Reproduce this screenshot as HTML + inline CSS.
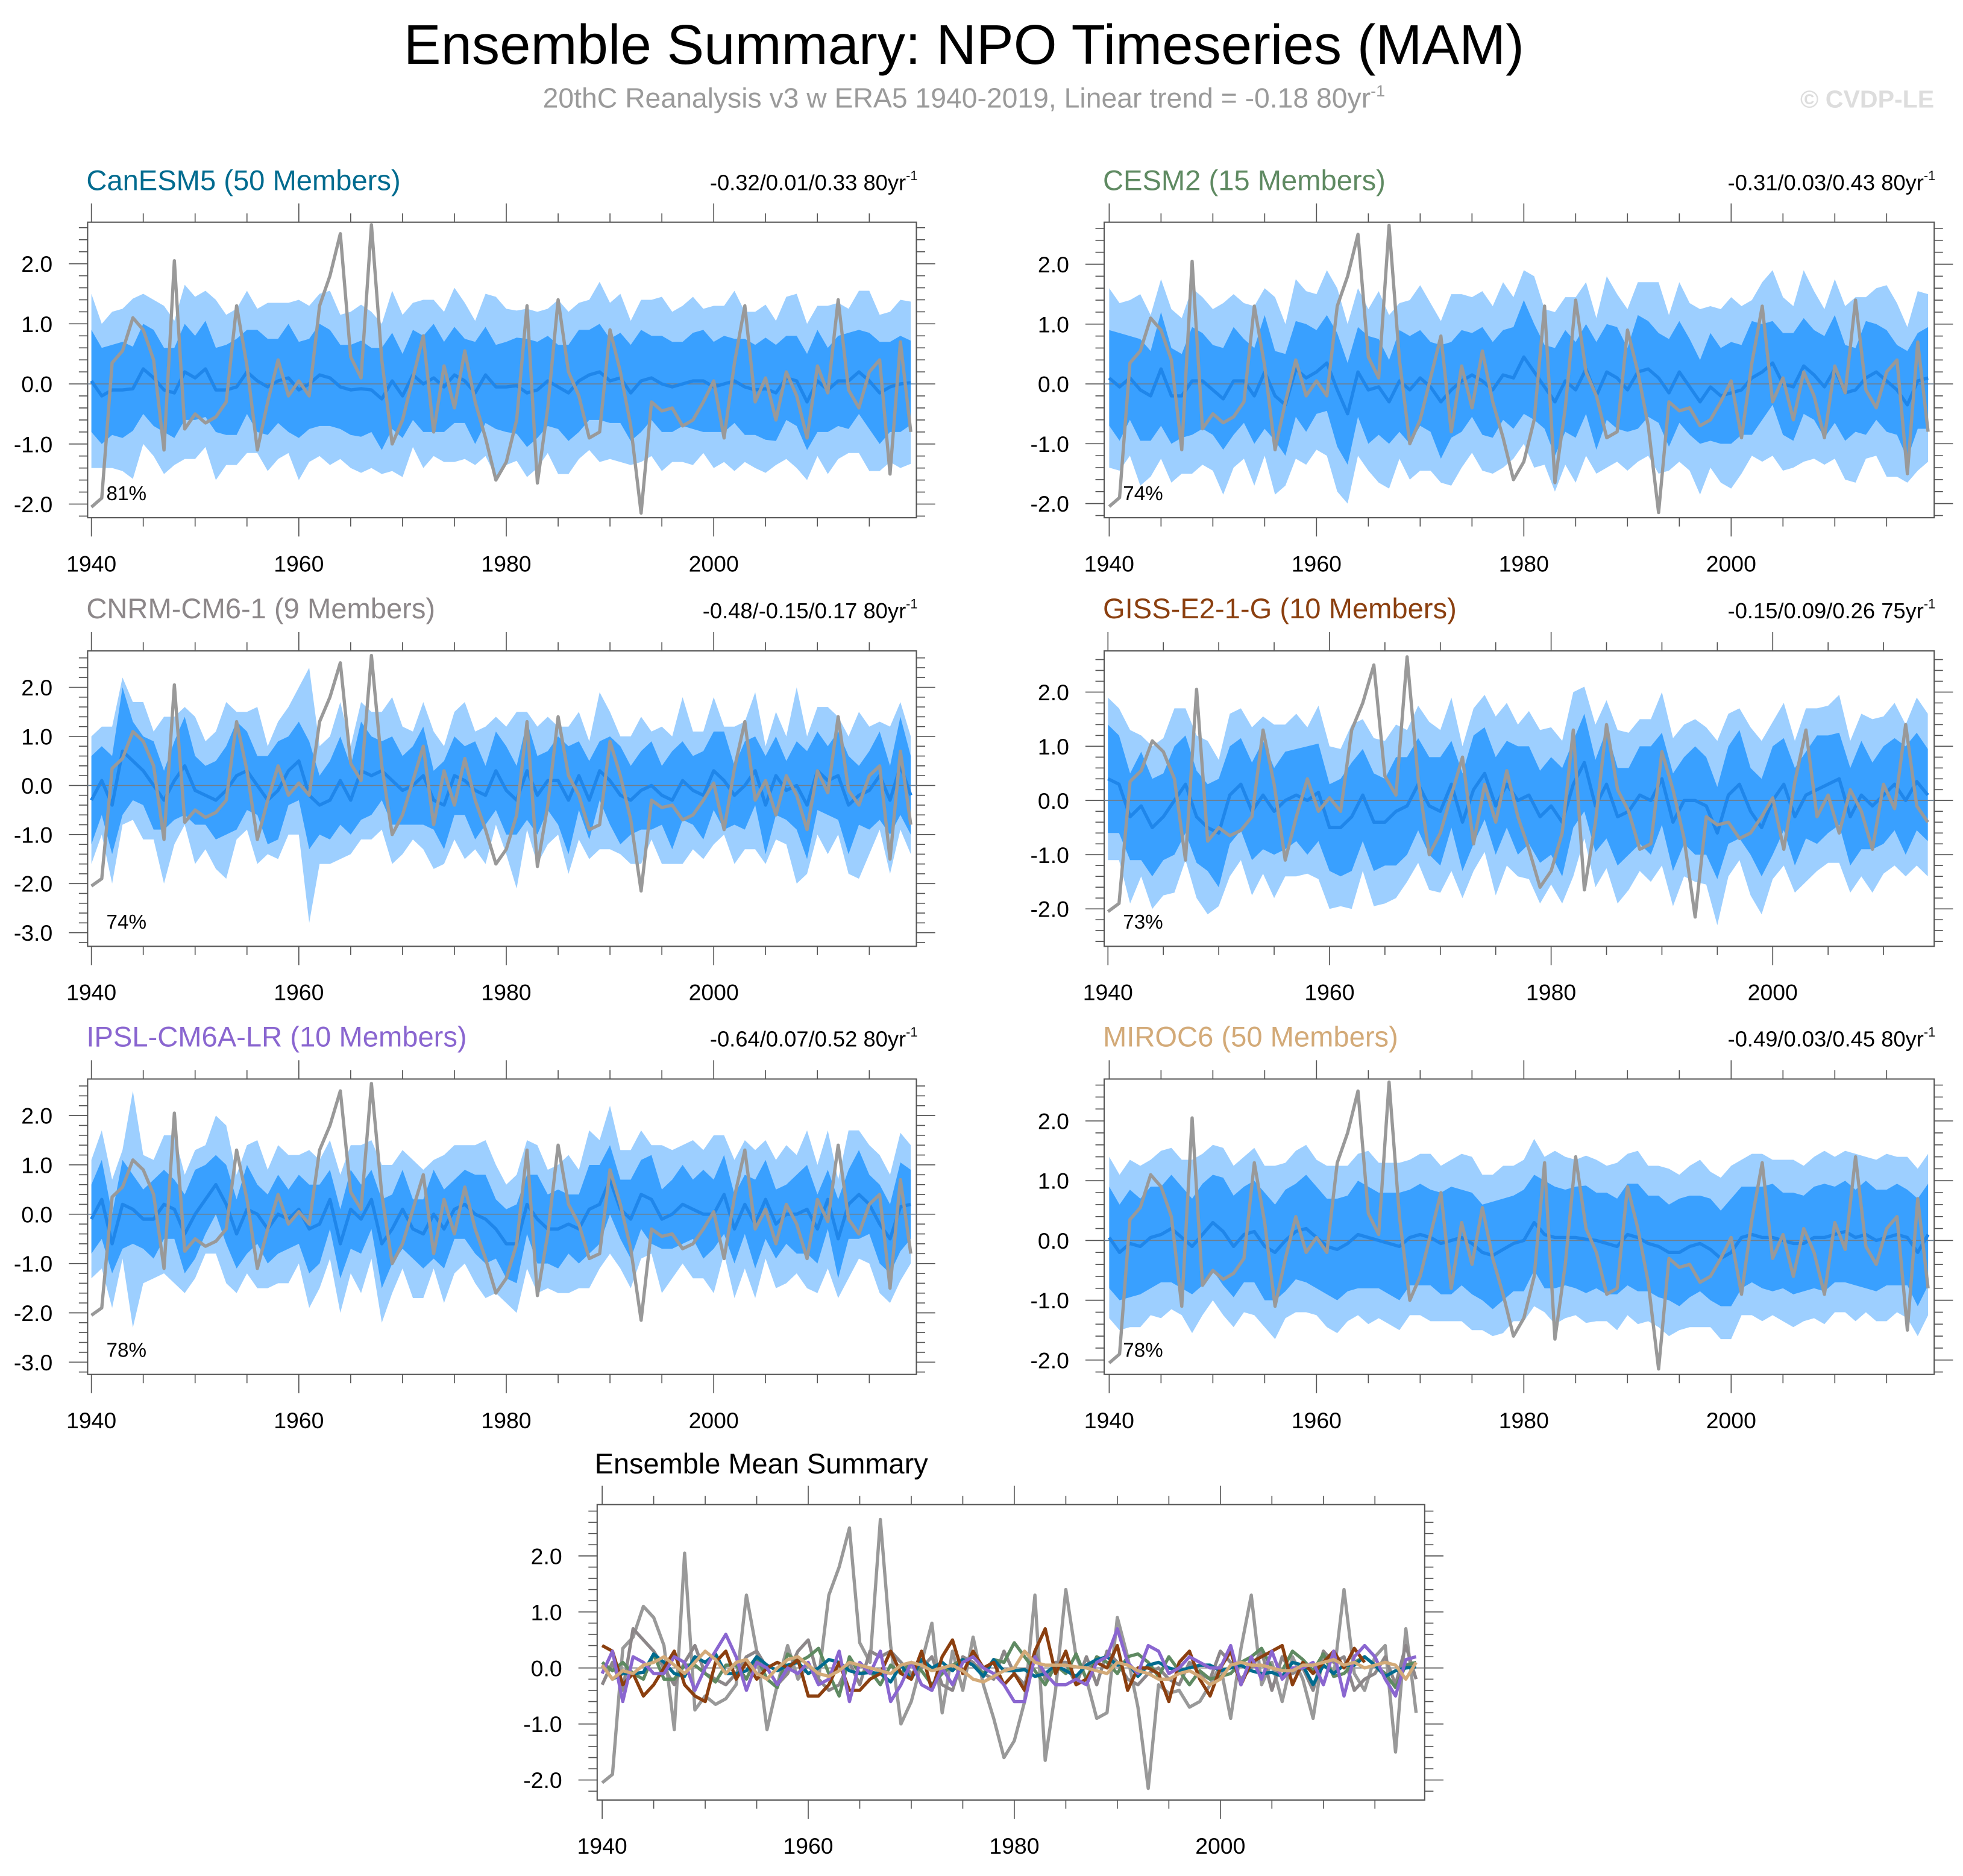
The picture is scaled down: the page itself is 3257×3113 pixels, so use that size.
<!DOCTYPE html>
<html><head><meta charset="utf-8"><title>Ensemble Summary: NPO Timeseries (MAM)</title>
<style>html,body{margin:0;padding:0;background:#fff}svg{display:block}</style></head>
<body>
<svg id="chart" xmlns="http://www.w3.org/2000/svg" width="3257" height="3113" viewBox="0 0 1568 1498.7" preserveAspectRatio="none" font-family="'Liberation Sans', Arial, sans-serif">
<text x="770" y="51" font-size="44.5" text-anchor="middle" fill="#000">Ensemble Summary: NPO Timeseries (MAM)</text>
<text x="770" y="86" font-size="22.3" text-anchor="middle" fill="#9a9a9a">20thC Reanalysis v3 w ERA5 1940-2019, Linear trend = -0.18 80yr<tspan font-size="13" dy="-9">-1</tspan></text>
<text x="1545" y="86" font-size="19.8" font-weight="bold" text-anchor="end" fill="#dddddd">© CVDP-LE</text>
<text x="475" y="1177" font-size="22.6" fill="#000">Ensemble Mean Summary</text>
</svg>
<script>
// ---- data ----
const obsStart = 1940;
const obs = [-2.05,-1.9,0.35,0.55,1.1,0.9,0.4,-1.1,2.05,-0.75,-0.5,-0.65,-0.55,-0.3,1.3,0.3,-1.1,-0.3,0.4,-0.2,0.05,-0.2,1.3,1.8,2.5,0.45,0.1,2.65,0.4,-1.0,-0.6,0.1,0.8,-0.8,0.3,-0.4,0.55,-0.3,-0.9,-1.6,-1.3,-0.6,1.3,-1.65,-0.4,1.4,0.2,-0.2,-0.9,-0.8,0.9,0.2,-0.7,-2.15,-0.3,-0.45,-0.4,-0.7,-0.6,-0.3,0.05,-0.9,0.35,1.3,-0.3,0.1,-0.6,0.2,-0.2,-0.9,0.3,-0.15,1.4,-0.1,-0.4,0.2,0.4,-1.5,0.7,-0.8];

const canMean = [0.05,-0.2,-0.1,-0.1,-0.08,0.25,0.1,-0.1,-0.15,0.2,0.1,0.25,-0.1,-0.1,-0.05,0.2,0.05,-0.05,0.05,0.1,-0.1,0,0.15,0.1,-0.05,-0.1,-0.08,-0.1,-0.25,0.05,-0.2,0.15,0,0.1,-0.05,0.15,0.05,-0.15,0.15,-0.05,-0.05,-0.03,-0.15,-0.1,0.05,-0.05,-0.15,0.05,0.15,0.2,0.05,0.1,-0.15,0.05,0.1,0,-0.05,0,0.05,0.05,-0.05,0,0.05,-0.05,-0.1,-0.08,-0.15,0.1,0.05,-0.3,0.05,-0.1,0.05,0.05,0.2,0.05,-0.15,-0.05,0,0.02];
const canIn = [0.85,0.8,0.75,0.8,0.7,0.75,0.8,0.7,0.75,0.8,0.7,0.8,0.7,0.75,0.8,0.7,0.85,0.8,0.7,0.9,0.8,0.75,0.85,0.8,0.7,0.75,0.8,0.7,0.85,0.8,0.7,0.75,0.8,0.9,0.75,0.8,0.7,0.85,0.8,0.7,0.75,0.8,0.9,0.8,0.75,0.7,0.8,0.85,0.75,0.8,0.7,0.75,0.8,0.85,0.7,0.8,0.75,0.7,0.8,0.85,0.75,0.8,0.7,0.8,0.75,0.85,0.8,0.7,0.75,0.8,0.85,0.7,0.75,0.8,0.7,0.8,0.85,0.75,0.8,0.7];
const canOut = [1.45,1.2,1.3,1.35,1.5,1.25,1.3,1.4,1.2,1.45,1.35,1.3,1.5,1.25,1.3,1.35,1.2,1.4,1.3,1.25,1.5,1.3,1.35,1.45,1.2,1.3,1.4,1.3,1.25,1.5,1.35,1.2,1.4,1.3,1.25,1.45,1.3,1.2,1.35,1.5,1.3,1.25,1.4,1.3,1.2,1.45,1.35,1.3,1.25,1.5,1.3,1.4,1.2,1.35,1.3,1.45,1.25,1.3,1.4,1.2,1.35,1.3,1.5,1.25,1.3,1.4,1.2,1.35,1.45,1.3,1.25,1.4,1.3,1.2,1.35,1.5,1.3,1.25,1.4,1.35];

const cesmMean = [0.1,-0.05,0.1,-0.1,-0.2,0.25,-0.2,-0.2,0.05,0.05,-0.1,-0.25,0.05,0.05,-0.2,0.2,-0.2,-0.35,0.25,0.1,0.2,0.35,-0.1,-0.5,0.2,-0.1,-0.05,-0.3,0.05,-0.1,0.1,-0.05,-0.3,-0.1,0.05,0.15,0.05,-0.1,0.15,0.1,0.45,0.2,-0.05,-0.3,0.05,-0.1,0.25,-0.2,0.2,0.1,-0.1,0.2,0.25,0.1,-0.15,0.2,-0.05,-0.3,-0.05,-0.2,-0.15,-0.1,0.1,0.2,0.35,0,-0.05,0.3,0.15,-0.05,0.25,-0.15,-0.1,0.1,0.2,0.05,-0.1,-0.35,0.05,0.1];
const cesmIn = [0.8,0.9,0.7,0.85,0.75,0.95,0.8,0.7,0.9,0.8,0.75,0.85,0.9,0.7,0.8,0.95,0.75,0.85,0.8,0.9,0.7,0.8,0.95,0.85,0.75,0.9,0.8,0.7,0.85,0.9,0.8,0.75,0.95,0.8,0.85,0.7,0.9,0.8,0.75,0.85,0.95,0.8,0.7,0.9,0.85,0.8,0.75,0.9,0.8,0.85,0.7,0.95,0.8,0.75,0.9,0.85,0.8,0.7,0.9,0.8,0.85,0.75,0.95,0.8,0.7,0.85,0.9,0.8,0.75,0.85,0.9,0.8,0.7,0.95,0.8,0.85,0.75,0.9,0.8,0.85];
const cesmOut = [1.5,1.4,1.3,1.6,1.35,1.5,1.45,1.3,1.55,1.4,1.35,1.6,1.45,1.3,1.5,1.4,1.65,1.35,1.5,1.45,1.3,1.55,1.7,1.5,1.4,1.35,1.6,1.45,1.3,1.5,1.55,1.4,1.35,1.6,1.45,1.3,1.5,1.4,1.55,1.35,1.45,1.6,1.3,1.5,1.4,1.55,1.45,1.3,1.6,1.4,1.35,1.5,1.45,1.6,1.3,1.5,1.4,1.55,1.35,1.45,1.6,1.4,1.3,1.5,1.55,1.45,1.35,1.6,1.4,1.3,1.5,1.45,1.55,1.35,1.4,1.6,1.45,1.3,1.5,1.4];

const cnrmMean = [-0.3,0.1,-0.4,0.7,0.5,0.3,0,-0.3,0.1,0.4,-0.1,-0.2,-0.3,-0.1,0.2,0.3,0,-0.3,-0.1,0.3,0.5,-0.2,-0.4,-0.3,0.1,-0.3,0.3,0.2,0.3,0.1,-0.1,0,0.2,-0.3,-0.4,0.2,0.1,-0.1,-0.2,0.3,-0.1,-0.3,0.3,-0.2,0.1,0.1,-0.3,0.2,-0.3,0.3,0.1,-0.2,-0.3,-0.1,0,-0.2,-0.3,0.1,-0.1,-0.2,0.3,0.1,-0.2,0,0.3,-0.4,0.2,-0.1,0,-0.4,0.3,0.1,0.2,-0.4,-0.2,-0.1,0.2,-0.3,0.4,-0.2];
const cnrmIn = [0.9,0.7,1.0,1.3,0.8,0.7,0.9,0.6,0.8,1.0,0.7,0.6,0.8,0.9,1.1,0.8,0.6,0.9,1.0,0.7,0.8,1.1,0.6,0.8,0.9,0.7,1.0,0.8,0.6,0.9,0.7,0.8,1.0,0.6,0.9,0.8,0.7,1.0,0.6,0.8,0.9,0.7,1.0,0.8,0.6,0.9,1.1,0.7,0.8,0.6,0.9,1.0,0.7,0.8,0.9,0.6,1.0,0.8,0.7,0.9,0.8,1.0,0.6,0.9,0.7,1.0,0.8,0.6,0.9,1.1,0.8,0.7,0.9,1.0,0.6,0.8,0.9,0.7,1.0,0.8];
const cnrmOut = [1.3,1.1,1.6,1.5,1.2,1.4,1.1,1.7,1.3,1.2,1.5,1.1,1.4,1.8,1.3,1.2,1.6,1.1,1.4,1.3,1.5,2.6,1.2,1.3,1.6,1.1,1.4,1.3,1.2,1.7,1.3,1.1,1.5,1.4,1.2,1.3,1.6,1.2,1.4,1.1,1.3,1.8,1.2,1.4,1.3,1.1,1.5,1.3,1.2,1.6,1.4,1.2,1.3,1.5,1.1,1.4,1.3,1.7,1.2,1.3,1.5,1.1,1.4,1.3,1.6,1.2,1.3,1.1,2.0,1.4,1.3,1.5,1.2,1.4,1.7,1.3,1.1,1.5,1.3,1.2];

const gissMean = [0.4,0.3,-0.3,-0.1,-0.5,-0.3,0,0.3,-0.3,-0.5,-0.6,0.1,0.3,-0.2,0.1,-0.2,0,0.1,0,0.15,-0.5,-0.5,-0.3,0.1,-0.4,-0.4,-0.2,-0.1,0.3,-0.1,-0.2,0.3,-0.4,0.2,0.5,-0.1,0.3,0,0.1,-0.3,-0.1,-0.4,0.3,0.7,-0.1,0.3,-0.3,-0.2,0.1,0,0.4,-0.4,0,0,-0.1,-0.6,0.1,0.3,-0.2,-0.5,0,0.3,-0.3,0.1,0.2,0.3,0.4,-0.3,0.1,-0.1,0.1,0.3,0,0.35,0.1];
const gissIn = [1.0,0.9,0.8,1.0,0.9,0.8,1.0,0.9,0.85,0.8,1.0,0.9,0.85,0.9,1.0,0.8,0.9,0.85,1.0,0.9,0.8,0.9,1.0,0.85,0.9,0.8,1.0,0.9,0.85,0.9,1.0,0.8,0.9,1.0,0.85,0.9,0.8,1.0,0.9,0.85,0.9,1.0,0.8,0.9,0.85,1.0,0.9,0.8,0.9,1.0,0.85,0.9,0.8,1.0,0.9,0.85,0.9,1.0,0.8,0.9,1.0,0.85,0.9,0.8,1.0,0.9,0.85,0.9,1.0,0.8,0.9,0.85,1.0,0.9,0.85];
const gissOut = [1.5,1.4,1.6,1.3,1.5,1.45,1.7,1.4,1.5,1.6,1.35,1.5,1.4,1.55,1.45,1.6,1.4,1.5,1.35,1.6,1.5,1.45,1.7,1.4,1.55,1.5,1.6,1.4,1.45,1.55,1.5,1.6,1.4,1.5,1.45,1.65,1.5,1.4,1.55,1.6,1.45,1.5,1.7,1.4,1.5,1.55,1.6,1.45,1.4,1.5,1.6,1.55,1.4,1.5,1.45,1.7,1.5,1.4,1.55,1.6,1.45,1.5,1.4,1.6,1.5,1.45,1.55,1.4,1.5,1.6,1.45,1.5,1.4,1.55,1.5];

const ipslMean = [-0.1,0.3,-0.6,0.2,0.1,-0.1,-0.1,0.2,0.1,-0.4,0,0.3,0.6,0.2,-0.4,0.1,0,-0.3,0,-0.1,0.1,-0.3,-0.2,0.3,-0.6,0.1,-0.1,0.3,-0.6,-0.3,0.1,-0.3,-0.4,0,-0.3,0.1,0.2,0,-0.1,-0.3,-0.6,-0.6,0.2,-0.1,-0.3,-0.3,-0.2,-0.3,0.1,0.2,0.7,0.1,-0.1,0.4,0.3,-0.1,0,0.2,0.1,0,0,0.4,-0.3,0.2,-0.2,0.3,-0.2,0,0,0.1,-0.3,0.3,-0.5,0.2,0.4,0.2,-0.2,-0.5,0.15,0.2];
const ipslIn = [0.7,0.8,0.6,0.9,0.7,0.6,0.8,0.7,0.6,0.8,0.9,0.7,0.6,0.8,0.7,0.9,0.6,0.7,0.8,0.6,0.7,0.9,0.8,0.6,0.7,0.8,0.7,0.6,0.9,0.7,0.8,0.6,0.7,0.9,0.8,0.6,0.7,0.8,0.9,0.6,0.7,0.8,0.6,0.9,0.7,0.8,0.6,0.7,0.9,0.8,0.7,0.6,0.8,0.7,0.9,0.6,0.7,0.8,0.6,0.9,0.7,0.8,0.7,0.6,0.9,0.8,0.7,0.6,0.8,0.9,0.7,0.6,0.8,0.7,0.9,0.6,0.8,0.7,0.9,0.7];
const ipslOut = [1.2,1.4,1.3,1.1,2.4,1.3,1.2,1.4,1.5,1.2,1.3,1.1,1.4,1.6,1.2,1.3,1.5,1.2,1.4,1.3,1.1,1.6,1.3,1.2,1.4,1.3,1.5,1.2,1.6,1.3,1.2,1.4,1.3,1.1,1.5,1.3,1.2,1.4,1.6,1.3,1.2,1.4,1.3,1.5,1.2,1.3,1.4,1.2,1.6,1.3,1.5,1.2,1.4,1.3,1.1,1.5,1.3,1.2,1.4,1.3,1.6,1.2,1.4,1.3,1.5,1.2,1.3,1.4,1.2,1.6,1.3,1.4,1.2,1.5,1.3,1.2,1.4,1.3,1.5,1.2];

const mirocMean = [0.05,-0.2,-0.05,-0.1,0.05,0.1,0.2,0.05,-0.1,0.1,0.3,0.15,-0.1,0.1,0.15,-0.1,-0.2,0,0.15,0.2,0.05,-0.1,-0.15,-0.05,0.1,0.05,0,-0.05,-0.1,0.05,0.1,0.05,-0.05,0,0.05,-0.05,-0.2,-0.25,-0.15,-0.05,0,0.3,0.1,0.05,0.05,0.05,0.02,0,-0.05,-0.1,0.1,0.05,-0.05,-0.1,-0.2,-0.2,-0.1,-0.05,-0.15,-0.3,-0.2,0.05,0.1,0.05,0.05,0,-0.05,-0.05,0.05,0.05,0.1,0.15,0.05,0.1,0,0.05,0.1,0.05,-0.2,0.1];
const mirocIn = [0.85,0.8,0.9,0.8,0.85,0.8,0.9,0.85,0.8,0.85,0.8,0.9,0.85,0.8,0.85,0.9,0.8,0.85,0.8,0.9,0.85,0.8,0.85,0.8,0.9,0.85,0.8,0.85,0.9,0.8,0.85,0.8,0.85,0.9,0.8,0.85,0.8,0.9,0.85,0.8,0.85,0.8,0.9,0.85,0.8,0.85,0.9,0.8,0.85,0.8,0.85,0.9,0.8,0.85,0.8,0.9,0.85,0.8,0.85,0.8,0.9,0.85,0.8,0.85,0.9,0.8,0.85,0.8,0.85,0.9,0.8,0.85,0.8,0.9,0.85,0.8,0.85,0.8,0.9,0.85];
const mirocOut = [1.35,1.3,1.4,1.35,1.3,1.4,1.35,1.3,1.45,1.35,1.3,1.4,1.35,1.3,1.4,1.35,1.45,1.3,1.35,1.4,1.3,1.35,1.4,1.3,1.35,1.45,1.3,1.35,1.4,1.3,1.35,1.4,1.3,1.35,1.4,1.45,1.3,1.35,1.4,1.3,1.35,1.4,1.3,1.45,1.35,1.3,1.4,1.35,1.3,1.4,1.35,1.45,1.3,1.35,1.4,1.3,1.35,1.4,1.3,1.35,1.45,1.3,1.35,1.4,1.3,1.35,1.4,1.3,1.35,1.45,1.3,1.35,1.4,1.3,1.35,1.4,1.3,1.35,1.4,1.35];

const modelNames = ["CanESM5 (50 Members)","CESM2 (15 Members)","CNRM-CM6-1 (9 Members)","GISS-E2-1-G (10 Members)","IPSL-CM6A-LR (10 Members)","MIROC6 (50 Members)"];
const trendLabels = ["-0.32/0.01/0.33 80yr","-0.31/0.03/0.43 80yr","-0.48/-0.15/0.17 80yr","-0.15/0.09/0.26 75yr","-0.64/0.07/0.52 80yr","-0.49/0.03/0.45 80yr"];
const pctLabels = ["81%","74%","74%","73%","78%","78%"];
const means = [canMean,cesmMean,cnrmMean,gissMean,ipslMean,mirocMean];
const innerW = [canIn,cesmIn,cnrmIn,gissIn,ipslIn,mirocIn];
const outerW = [canOut,cesmOut,cnrmOut,gissOut,ipslOut,mirocOut];
const yTicks = [[2,1,0,-1,-2],[2,1,0,-1,-2],[2,1,0,-1,-2,-3],[2,1,0,-1,-2],[2,1,0,-1,-2,-3],[2,1,0,-1,-2]];
const xTicks = [1940,1960,1980,2000];
const modelColors = ["#006b8f","#5f8a62","#8c8789","#8b3f0f","#8a66d0","#d3aa78"];

// ---- layout (pixel geometry, not data) ----
const layout = [
 {l:70,r:732,t:177.5,b:413.6,x40:73,pyr:8.285,y0:306.7,pu:48.0,ty:152},
 {l:882,r:1545,t:177.5,b:413.6,x40:886,pyr:8.28,y0:306.7,pu:47.8,ty:152},
 {l:70,r:732,t:520,b:756,x40:73,pyr:8.285,y0:627.5,pu:39.2,ty:494},
 {l:882,r:1545,t:520,b:756,x40:885,pyr:8.85,y0:639.5,pu:43.3,ty:494},
 {l:70,r:732,t:862,b:1098,x40:73,pyr:8.285,y0:970,pu:39.4,ty:836},
 {l:882,r:1545,t:862,b:1098,x40:886,pyr:8.28,y0:991,pu:47.75,ty:836}
];
const bottomL = {l:477,r:1138,t:1202,b:1438,x40:481,pyr:8.23,y0:1332.5,pu:44.75};

const NS = "http://www.w3.org/2000/svg";
const svg = document.getElementById('chart');
function mk(tag, attrs, parent){
  const e = document.createElementNS(NS, tag);
  for (const k in attrs) e.setAttribute(k, attrs[k]);
  (parent||svg).appendChild(e);
  return e;
}

function axes(L, g, idx){
  const xs = y => L.x40 + (y - obsStart) * L.pyr;
  const ys = v => L.y0 - v * L.pu;
  const fr = mk('rect',{x:L.l,y:L.t,width:L.r-L.l,height:L.b-L.t,fill:'none',stroke:'#555','stroke-width':1},g);
  
  
  const vTop = (L.y0 - L.t)/L.pu, vBot = (L.y0 - L.b)/L.pu;
  for (let k = Math.ceil(vBot*5); k <= Math.floor(vTop*5); k++){
    const v = k/5, y = ys(v), major = (k % 5 === 0), len = major ? 15 : 7;
    mk('line',{x1:L.l-len,x2:L.l,y1:y,y2:y,stroke:'#555','stroke-width':0.8},g);
    mk('line',{x1:L.r,x2:L.r+len,y1:y,y2:y,stroke:'#555','stroke-width':0.8},g);
  }
  for (let yr = 1940; xs(yr) <= L.r+0.5; yr += 5){
    const x = xs(yr), major = (yr % 20 === 0), len = major ? 15 : 7;
    mk('line',{x1:x,x2:x,y1:L.b,y2:L.b+len,stroke:'#555','stroke-width':0.8},g);
    mk('line',{x1:x,x2:x,y1:L.t-len,y2:L.t,stroke:'#555','stroke-width':0.8},g);
  }
  const yt = yTicks[idx] || [2,1,0,-1,-2];
  yt.forEach(v => {
    const t = mk('text',{x:L.l-28,y:ys(v)+6.5,'font-size':18,'text-anchor':'end',fill:'#000'},g);
    
    
    t.textContent = v.toFixed(1);
  });
  xTicks.forEach(yr => {
    const t = mk('text',{x:xs(yr),y:L.b+43,'font-size':18,'text-anchor':'middle',fill:'#000'},g);
    
    
    t.textContent = String(yr);
  });
  return {xs, ys};
}

function lineOf(arr, xs, ys){
  return arr.map((v,i)=>(i?'L':'M')+xs(obsStart+i).toFixed(2)+' '+ys(v).toFixed(2)).join(' ');
}

layout.forEach((L, idx) => {
  const g = mk('g',{});
  
  
  const cp = mk('clipPath',{id:'clip'+idx},g);
  mk('rect',{x:L.l,y:L.t,width:L.r-L.l,height:L.b-L.t},cp);
  const {xs, ys} = axes(L, g, idx);
  const m = means[idx], wi = innerW[idx], wo = outerW[idx];
  const n = m.length;
  const dg = mk('g',{'clip-path':'url(#clip'+idx+')'},g);
  function band(w, fill, name){
    let up = [], lo = [];
    for (let i=0;i<n;i++){ up.push(xs(obsStart+i).toFixed(2)+','+ys(m[i]+w[i]).toFixed(2)); }
    for (let i=n-1;i>=0;i--){ lo.push(xs(obsStart+i).toFixed(2)+','+ys(m[i]-w[i]).toFixed(2)); }
    const p = mk('polygon',{points:up.concat(lo).join(' '),fill:fill},dg);
    
    
  }
  band(wo, '#9dcfff', 'outer-spread-band');
  band(wi, '#39a0ff', 'inner-spread-band');
  const z = mk('line',{x1:L.l,x2:L.r,y1:ys(0),y2:ys(0),stroke:'#6d7f90','stroke-width':0.8},dg);
  
  
  const ml = mk('path',{d:lineOf(m,xs,ys),fill:'none',stroke:'#1f86ea','stroke-width':2.6,'stroke-linejoin':'round'},dg);
  
  
  const ol = mk('path',{d:lineOf(obs.slice(0,n),xs,ys),fill:'none',stroke:'#999999','stroke-width':2.6,'stroke-linejoin':'round'},dg);
  
  
  const tt = mk('text',{x:L.l-1,y:L.ty,'font-size':22.7,fill:modelColors[idx]},g);
  
  
  tt.textContent = modelNames[idx];
  const tr = mk('text',{x:L.r+1,y:L.ty,'font-size':17.5,'text-anchor':'end',fill:'#000'},g);
  
  
  tr.textContent = trendLabels[idx];
  const sup = mk('tspan',{'font-size':10.5,dy:-8},tr);
  sup.textContent = '-1';
  const pc = mk('text',{x:L.l+15,y:L.b-14,'font-size':16,fill:'#000'},g);
  
  
  pc.textContent = pctLabels[idx];
});

// bottom summary panel
(function(){
  const L = bottomL;
  const g = mk('g',{});
  
  
  const cp = mk('clipPath',{id:'clipB'},g);
  mk('rect',{x:L.l,y:L.t,width:L.r-L.l,height:L.b-L.t},cp);
  const {xs, ys} = axes(L, g, 0);
  const dg = mk('g',{'clip-path':'url(#clipB)'},g);
  const z = mk('line',{x1:L.l,x2:L.r,y1:ys(0),y2:ys(0),stroke:'#777','stroke-width':0.8},dg);
  
  
  const ol = mk('path',{d:lineOf(obs,xs,ys),fill:'none',stroke:'#999999','stroke-width':2.6,'stroke-linejoin':'round'},dg);
  
  
  [2,1,0,3,4,5].forEach(i => {
    const p = mk('path',{d:lineOf(means[i],xs,ys),fill:'none',stroke:modelColors[i],'stroke-width':2.6,'stroke-linejoin':'round'},dg);
    
    
  });
})();
</script>
</body></html>
